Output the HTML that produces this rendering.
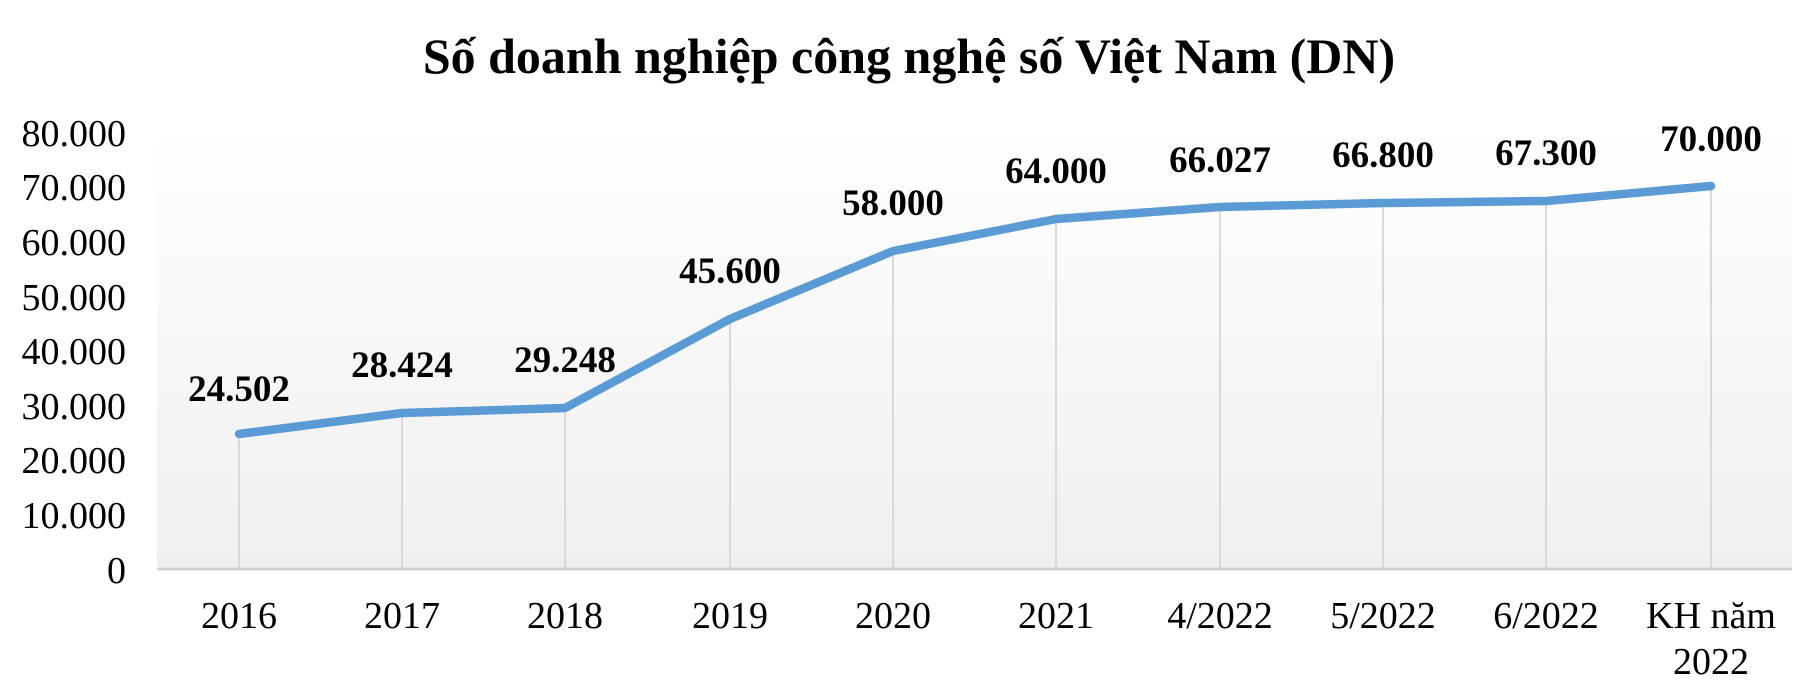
<!DOCTYPE html>
<html><head><meta charset="utf-8"><style>
html,body{margin:0;padding:0;background:#fff;}
svg{display:block;}
text{font-family:"Liberation Serif","Noto Serif CJK SC",serif;fill:#000;}
</style></head><body>
<svg width="1818" height="693" viewBox="0 0 1818 693" xmlns="http://www.w3.org/2000/svg">
<defs><linearGradient id="g" x1="0" y1="0" x2="0" y2="1">
<stop offset="0" stop-color="#ffffff"/><stop offset="1" stop-color="#efefef"/></linearGradient></defs>
<rect x="157" y="128" width="1635" height="441" fill="url(#g)"/>
<text x="909" y="73" text-anchor="middle" font-size="50" font-weight="bold">Số doanh nghiệp công nghệ số Việt Nam (DN)</text>
<g font-size="38" text-anchor="end">
<text x="126" y="146">80.000</text><text x="126" y="200">70.000</text><text x="126" y="255">60.000</text>
<text x="126" y="310">50.000</text><text x="126" y="364">40.000</text><text x="126" y="419">30.000</text>
<text x="126" y="473">20.000</text><text x="126" y="528">10.000</text><text x="126" y="583">0</text>
</g>
<g stroke="#d9d9d9" stroke-width="2">
<line x1="239" y1="434" x2="239" y2="568"/><line x1="402" y1="413" x2="402" y2="568"/>
<line x1="565" y1="408" x2="565" y2="568"/><line x1="730" y1="319" x2="730" y2="568"/>
<line x1="893" y1="251" x2="893" y2="568"/><line x1="1056" y1="219" x2="1056" y2="568"/>
<line x1="1220" y1="207" x2="1220" y2="568"/><line x1="1383" y1="203" x2="1383" y2="568"/>
<line x1="1546" y1="201" x2="1546" y2="568"/><line x1="1711" y1="186" x2="1711" y2="568"/>
</g>
<line x1="157" y1="569" x2="1792" y2="569" stroke="#d0d0d0" stroke-width="3"/>
<polyline fill="none" stroke="#5b9bd5" stroke-width="8.5" stroke-linejoin="round" stroke-linecap="round"
points="239,434 402,413 565,408 730,319 893,251 1056,219 1220,207 1383,203 1546,201 1711,186"/>
<g font-size="37" font-weight="bold" text-anchor="middle">
<text x="239" y="401">24.502</text><text x="402" y="377">28.424</text><text x="565" y="372">29.248</text>
<text x="730" y="283">45.600</text><text x="893" y="215">58.000</text><text x="1056" y="183">64.000</text>
<text x="1220" y="172">66.027</text><text x="1383" y="167">66.800</text><text x="1546" y="165">67.300</text>
<text x="1711" y="151">70.000</text>
</g>
<g font-size="38" text-anchor="middle">
<text x="239" y="628">2016</text><text x="402" y="628">2017</text><text x="565" y="628">2018</text>
<text x="730" y="628">2019</text><text x="893" y="628">2020</text><text x="1056" y="628">2021</text>
<text x="1220" y="628">4/2022</text><text x="1383" y="628">5/2022</text><text x="1546" y="628">6/2022</text>
<text x="1711" y="628">KH năm</text><text x="1711" y="674">2022</text>
</g>
</svg>
</body></html>
